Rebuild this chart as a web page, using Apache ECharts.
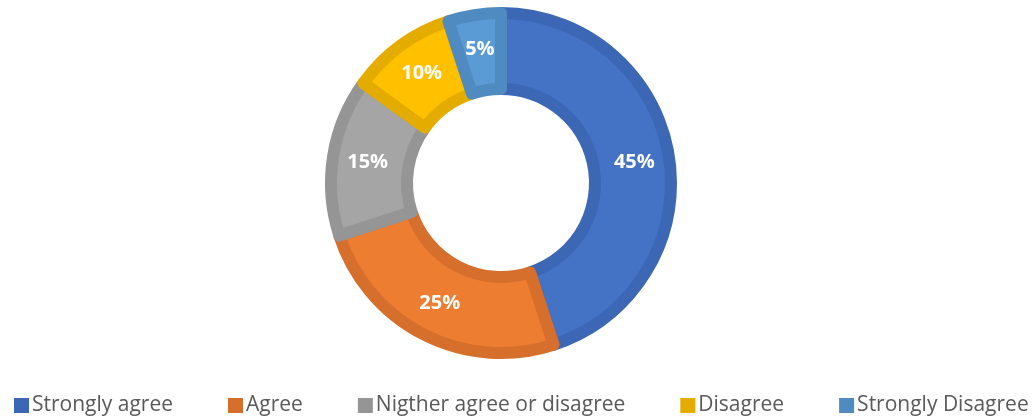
<!DOCTYPE html>
<html><head><meta charset="utf-8">
<script src="https://cdn.jsdelivr.net/npm/echarts@6/dist/echarts.min.js"></script>
<style>html,body{margin:0;padding:0;background:#fff}#c{width:1035px;height:420px}</style>
</head><body><div id="c"></div>
<script>
const categories = ['Strongly agree','Agree','Nigther agree or disagree','Disagree','Strongly Disagree'];
const values = [45,25,15,10,5];
const fillColors = ['#4472C4','#ED7D31','#A5A5A5','#FFC000','#5B9BD5'];
const borderColors = ['#3C67B4','#D66F2B','#959595','#E5AC00','#4F8AC1'];

const chart = echarts.init(document.getElementById('c'));
chart.setOption({
  animation:false,
  legend:{
    bottom:-1, left:14, width:1200, padding:[5,0,5,0], itemGap:55, itemWidth:15, itemHeight:15,
    icon:'rect',
    textStyle:{fontFamily:'Open Sans', fontSize:21, color:'#595959', padding:[0,0,0,-2]},
    data: categories.map((n,i)=>({name:n, itemStyle:{color:borderColors[i], borderWidth:0}}))
  },
  series:[{
    type:'pie', center:[501,183], radius:[94,170], startAngle:90, clockwise:true,
    label:{show:true, position:'inside', formatter:'{c}%', color:'#fff', fontWeight:'bold', fontSize:20, fontFamily:'Open Sans'},
    labelLine:{show:false},
    data: categories.map((n,i)=>({name:n, value:values[i], itemStyle:{color:fillColors[i], borderColor:borderColors[i], borderWidth:12}}))
  }]
});
</script></body></html>
